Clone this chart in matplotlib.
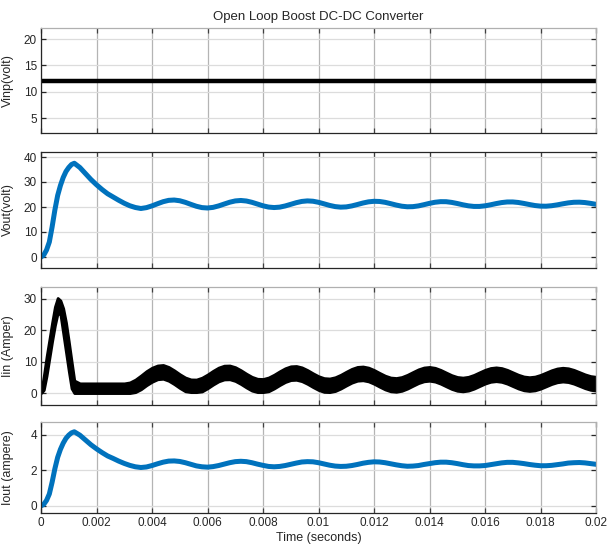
import matplotlib
matplotlib.use("Agg")
import matplotlib.pyplot as plt
import numpy as np

plt.rcParams['font.family'] = ['Liberation Sans', 'DejaVu Sans']

# Simulation time base (ms)
t_ms = [0.0, 0.1, 0.2, 0.3, 0.4, 0.5, 0.6, 0.7, 0.8, 0.9, 1.0, 1.1, 1.2,
        1.4, 1.6, 1.8, 2.0, 2.2, 2.4, 2.6, 2.8, 3.0, 3.2, 3.4, 3.6, 3.8,
        4.0, 4.2, 4.4, 4.6, 4.8, 5.0, 5.2, 5.4, 5.6, 5.8, 6.0, 6.2, 6.4,
        6.6, 6.8, 7.0, 7.2, 7.4, 7.6, 7.8, 8.0, 8.2, 8.4, 8.6, 8.8, 9.0,
        9.2, 9.4, 9.6, 9.8, 10.0, 10.2, 10.4, 10.6, 10.8, 11.0, 11.2, 11.4,
        11.6, 11.8, 12.0, 12.2, 12.4, 12.6, 12.8, 13.0, 13.2, 13.4, 13.6,
        13.8, 14.0, 14.2, 14.4, 14.6, 14.8, 15.0, 15.2, 15.4, 15.6, 15.8,
        16.0, 16.2, 16.4, 16.6, 16.8, 17.0, 17.2, 17.4, 17.6, 17.8, 18.0,
        18.2, 18.4, 18.6, 18.8, 19.0, 19.2, 19.4, 19.6, 19.8, 20.0]

# Input voltage (V)
vinp = [12.0] * len(t_ms)

# Output voltage (V)
vout = [0.0, 0.8, 2.8, 6.0, 12.0, 18.8, 24.6, 28.6, 31.8, 34.2, 35.8, 37.0, 37.5,
        35.8, 33.4, 31.0, 28.9, 27.0, 25.3, 24.0, 22.7, 21.5, 20.5, 19.8, 19.4, 19.75,
        20.45, 21.31, 22.12, 22.66, 22.79, 22.50, 21.87, 21.06, 20.29, 19.76, 19.60, 19.85, 20.43,
        21.18, 21.91, 22.43, 22.61, 22.40, 21.88, 21.18, 20.48, 19.97, 19.78, 19.94, 20.42, 21.07,
        21.73, 22.23, 22.44, 22.31, 21.88, 21.27, 20.64, 20.16, 19.94, 20.04, 20.43, 20.99,
        21.59, 22.06, 22.28, 22.21, 21.87, 21.34, 20.78, 20.32, 20.09, 20.14, 20.44,
        20.93, 21.46, 21.90, 22.14, 22.12, 21.84, 21.40, 20.89, 20.47, 20.23, 20.23,
        20.47, 20.88, 21.36, 21.77, 22.01, 22.02, 21.81, 21.43, 20.99, 20.59, 20.35,
        20.32, 20.51, 20.85, 21.27, 21.65, 21.89, 21.93, 21.78, 21.46, 21.07]

# Input (inductor) current ripple band: upper and lower envelopes (A)
iin_upper = [0.0, 5.5, 11.6, 17.0, 22.5, 27.5, 30.3, 29.5, 27.0, 22.5, 16.5, 10.2, 4.0,
             3.1, 3.1, 3.1, 3.1, 3.1, 3.1, 3.1, 3.1, 3.1, 3.4, 4.3, 5.6, 7.0,
             8.1, 8.8, 8.96, 8.32, 7.25, 6.02, 4.96, 4.35, 4.32, 4.91, 5.92, 7.10, 8.13,
             8.74, 8.79, 8.26, 7.30, 6.18, 5.18, 4.56, 4.49, 4.97, 5.87, 6.95, 7.92, 8.54,
             8.63, 8.19, 7.34, 6.31, 5.38, 4.77, 4.65, 5.05, 5.84, 6.82, 7.73, 8.34,
             8.47, 8.12, 7.37, 6.43, 5.55, 4.95, 4.80, 5.12, 5.82, 6.71, 7.57,
             8.15, 8.33, 8.05, 7.39, 6.54, 5.71, 5.13, 4.94, 5.19, 5.80, 6.62,
             7.42, 7.99, 8.19, 7.97, 7.40, 6.62, 5.85, 5.28, 5.07, 5.26, 5.80,
             6.54, 7.29, 7.84, 8.07, 7.90, 7.40, 6.69, 5.97, 5.43, 5.19]
iin_lower = [0.0, 1.0, 5.5, 11.0, 16.5, 21.5, 25.5, 25.0, 19.0, 13.0, 7.0, 1.5, 0.0,
             0.0, 0.0, 0.0, 0.0, 0.0, 0.0, 0.0, 0.0, 0.0, 0.0, 0.3, 1.2, 2.5,
             3.6, 4.4, 4.56, 3.92, 2.85, 1.62, 0.56, 0.3, 0.3, 0.51, 1.52, 2.70, 3.73,
             4.34, 4.39, 3.86, 2.90, 1.78, 0.78, 0.3, 0.3, 0.57, 1.47, 2.55, 3.52, 4.14,
             4.23, 3.79, 2.94, 1.91, 0.98, 0.37, 0.3, 0.65, 1.44, 2.42, 3.33, 3.94,
             4.07, 3.72, 2.97, 2.03, 1.15, 0.55, 0.40, 0.72, 1.42, 2.31, 3.17,
             3.75, 3.93, 3.65, 2.99, 2.14, 1.31, 0.73, 0.54, 0.79, 1.40, 2.22,
             3.02, 3.59, 3.79, 3.57, 3.00, 2.22, 1.45, 0.88, 0.67, 0.86, 1.40,
             2.14, 2.89, 3.44, 3.67, 3.50, 3.00, 2.29, 1.57, 1.03, 0.79]

# Output (load) current (A)
iout = [0.0, 0.09, 0.31, 0.67, 1.33, 2.09, 2.73, 3.18, 3.53, 3.80, 3.98, 4.11, 4.17,
        3.98, 3.71, 3.44, 3.21, 3.00, 2.81, 2.67, 2.52, 2.39, 2.28, 2.20, 2.16, 2.19,
        2.27, 2.37, 2.46, 2.52, 2.53, 2.50, 2.43, 2.34, 2.25, 2.20, 2.18, 2.21, 2.27,
        2.35, 2.43, 2.49, 2.51, 2.49, 2.43, 2.35, 2.28, 2.22, 2.20, 2.22, 2.27, 2.34,
        2.41, 2.47, 2.49, 2.48, 2.43, 2.36, 2.29, 2.24, 2.22, 2.23, 2.27, 2.33,
        2.40, 2.45, 2.48, 2.47, 2.43, 2.37, 2.31, 2.26, 2.23, 2.24, 2.27,
        2.33, 2.38, 2.43, 2.46, 2.46, 2.43, 2.38, 2.32, 2.27, 2.25, 2.25,
        2.27, 2.32, 2.37, 2.42, 2.45, 2.45, 2.42, 2.38, 2.33, 2.29, 2.26,
        2.26, 2.28, 2.32, 2.36, 2.41, 2.43, 2.44, 2.42, 2.38, 2.34]

x_ticks = [0, 0.002, 0.004, 0.006, 0.008, 0.01, 0.012, 0.014, 0.016, 0.018, 0.02]
x_tick_labels = ['0', '0.002', '0.004', '0.006', '0.008', '0.01', '0.012',
                 '0.014', '0.016', '0.018', '0.02']

t = np.array(t_ms) / 1000.0
blue = '#0072BD'

W, H = 607, 545
fig = plt.figure(figsize=(W / 100, H / 100), dpi=100)


def add_panel(top_px, bottom_px):
    left, right = 41, 596
    return fig.add_axes([left / W, 1 - bottom_px / H, (right - left) / W,
                         (bottom_px - top_px) / H])


axes = [add_panel(28, 133), add_panel(152, 268), add_panel(287, 405), add_panel(422, 513)]

axes[0].plot(t, vinp, color='black', lw=3.2, solid_capstyle='butt')
axes[1].plot(t, vout, color=blue, lw=3.6)
axes[2].fill_between(t, iin_lower, iin_upper, color='black', lw=2.0, edgecolor='black')
axes[3].plot(t, iout, color=blue, lw=3.6)

ylims = [(2.2, 22.1), (-4.4, 42), (-3.8, 33.8), (-0.4, 4.72)]
yticks = [[5, 10, 15, 20], [0, 10, 20, 30, 40], [0, 10, 20, 30], [0, 2, 4]]
ylabels = ['Vinp(volt)', 'Vout(volt)', 'Iin (Amper)', 'Iout (ampere)']

for ax, yl, yt, lab in zip(axes, ylims, yticks, ylabels):
    ax.set_xlim(0, 0.02)
    ax.set_ylim(*yl)
    ax.set_yticks(yt)
    ax.set_xticks(x_ticks)
    ax.grid(axis='y', color='#dcdcdc', lw=0.9)
    ax.grid(axis='x', color='#b4b4b4', lw=0.9)
    ax.set_axisbelow(True)
    ax.tick_params(direction='in', top=True, right=True, length=3.5, width=0.9,
                   colors='#262626', labelsize=8.5, pad=3)
    ax.tick_params(axis='x', colors='#404040')
    for side in ('left', 'bottom'):
        ax.spines[side].set_color('#262626')
        ax.spines[side].set_linewidth(0.9)
    for side in ('top', 'right'):
        ax.spines[side].set_color('#b0b0b0')
        ax.spines[side].set_linewidth(0.9)
    ax.set_ylabel(lab, fontsize=9, color='#262626', labelpad=3)
    if ax is not axes[-1]:
        ax.set_xticklabels([])
    ax.yaxis.set_label_coords(-0.048, 0.5)

axes[1].spines['top'].set_color('#262626')
axes[-1].set_xticklabels(x_tick_labels)
axes[-1].tick_params(axis='x', labelcolor='#262626', labelsize=8.5)
axes[-1].set_xlabel('Time (seconds)', fontsize=9, color='#262626', labelpad=2)
axes[0].set_title('Open Loop Boost DC-DC Converter', fontsize=9.5, color='#262626', pad=6)

fig.savefig('out.png', dpi=100)
